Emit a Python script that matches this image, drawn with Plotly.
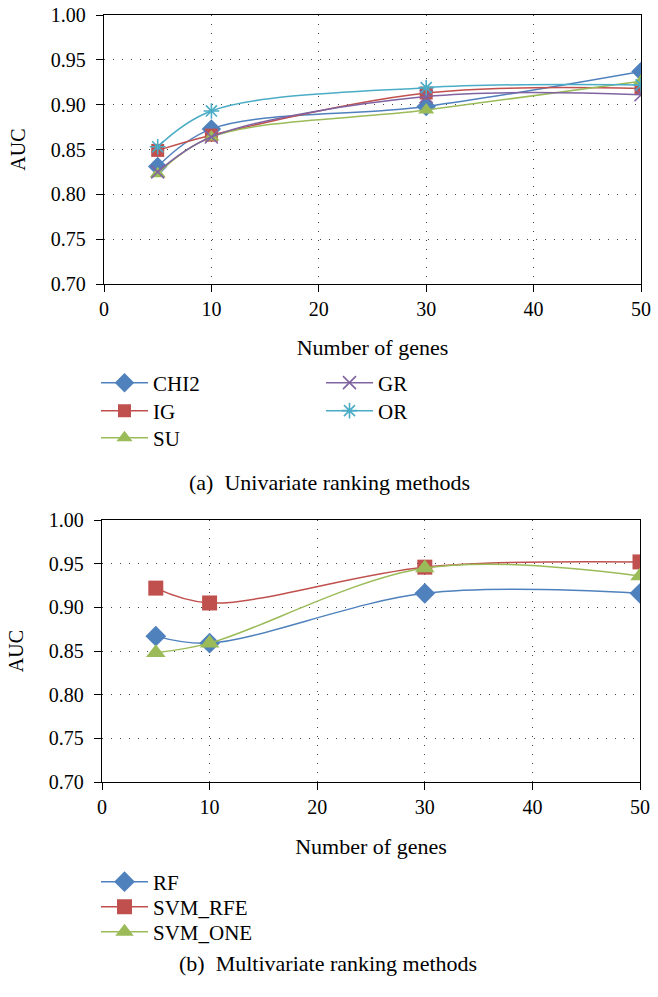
import plotly.graph_objects as go

# ---- data ----
genes = [5, 10, 30, 50]
chi2 = [0.831, 0.873, 0.898, 0.937]
ig = [0.849, 0.866, 0.913, 0.918]
su = [0.823, 0.864, 0.894, 0.926]
gr = [0.825, 0.864, 0.909, 0.911]
or_ = [0.853, 0.893, 0.919, 0.922]

rf = [0.867, 0.859, 0.916, 0.916]
svm_rfe = [0.922, 0.905, 0.946, 0.952]
svm_one = [0.848, 0.859, 0.945, 0.936]

x_ticks = [0, 10, 20, 30, 40, 50]
y_ticks = [0.70, 0.75, 0.80, 0.85, 0.90, 0.95, 1.00]

BLUE = "#4F81BD"
RED = "#C0504D"
GREEN = "#9BBB59"
PURPLE = "#8064A2"
AQUA = "#4BACC6"

FONT = "Liberation Serif"
FS = 20
W, H = 658, 997

fig = go.Figure()


def add(name, y, color, symbol, xa, ya, legend, size=13, open_sym=False):
    marker = dict(symbol=symbol, size=size, color=color)
    if open_sym:
        marker.update(line=dict(color=color, width=1.6))
    fig.add_trace(go.Scatter(
        x=genes, y=y, name=name, mode="lines+markers", showlegend=True,
        line=dict(color=color, width=1.5, shape="spline", smoothing=1.0),
        marker=marker, xaxis=xa, yaxis=ya, legend=legend,
    ))


add("CHI2", chi2, BLUE, "diamond", "x", "y", "legend", size=15)
add("IG", ig, RED, "square", "x", "y", "legend2", size=13)
add("SU", su, GREEN, "triangle-up", "x", "y", "legend3", size=14)
add("GR", gr, PURPLE, "x-thin-open", "x", "y", "legend4", size=13, open_sym=True)
add("OR", or_, AQUA, "asterisk-open", "x", "y", "legend5", size=13, open_sym=True)

add("RF", rf, BLUE, "diamond", "x2", "y2", "legend6", size=16)
add("SVM_RFE", svm_rfe, RED, "square", "x2", "y2", "legend7", size=15)
add("SVM_ONE", svm_one, GREEN, "triangle-up", "x2", "y2", "legend8", size=17)

axis_common = dict(
    showline=True, linecolor="black", linewidth=1.3, mirror=True,
    ticks="outside", ticklen=7, tickcolor="black", tickwidth=1.3,
    showgrid=True, gridcolor="#444444", gridwidth=1.2, griddash="1px,8px",
    zeroline=False, tickfont=dict(family=FONT, size=FS, color="black"),
    automargin=False,
)

xdom1 = [104 / W, 641 / W]
ydom1 = [1 - 284 / H, 1 - 15 / H]
xdom2 = [102 / W, 640 / W]
ydom2 = [1 - 782 / H, 1 - 520 / H]

xtitle_font = dict(family=FONT, size=22, color="black")
ytitle_font = dict(family=FONT, size=20, color="black")
leg_font = dict(family=FONT, size=21, color="black")


def leg(x_px, y_px):
    return dict(x=x_px / W, y=1 - y_px / H, xanchor="left", yanchor="middle",
                bgcolor="rgba(0,0,0,0)", font=leg_font, itemwidth=47,
                borderwidth=0)


fig.update_layout(
    width=W, height=H,
    margin=dict(l=0, r=0, t=0, b=0),
    showlegend=True,
    paper_bgcolor="white", plot_bgcolor="white",
    font=dict(family=FONT, size=FS, color="black"),
    xaxis=dict(axis_common, domain=xdom1, anchor="y", range=[0, 50],
               tickvals=x_ticks,
               title=dict(text="Number of genes", font=xtitle_font, standoff=20)),
    yaxis=dict(axis_common, domain=ydom1, anchor="x", range=[0.70, 1.00],
               tickvals=y_ticks, tickformat=".2f", ticklabelstandoff=6,
               title=dict(text="AUC", font=ytitle_font, standoff=19)),
    xaxis2=dict(axis_common, domain=xdom2, anchor="y2", range=[0, 50],
                tickvals=x_ticks,
                title=dict(text="Number of genes", font=xtitle_font, standoff=21)),
    yaxis2=dict(axis_common, domain=ydom2, anchor="x2", range=[0.70, 1.00],
                tickvals=y_ticks, tickformat=".2f", ticklabelstandoff=6,
                title=dict(text="AUC", font=ytitle_font, standoff=19)),
    legend=leg(96, 383),
    legend2=leg(96, 411),
    legend3=leg(96, 438),
    legend4=leg(321, 383),
    legend5=leg(321, 411),
    legend6=leg(96, 882),
    legend7=leg(96, 907),
    legend8=leg(96, 932),
    annotations=[
        dict(text="(a)\u00a0 Univariate ranking methods", x=329 / W, y=1 - 482 / H,
             xref="paper", yref="paper", xanchor="center", yanchor="middle",
             showarrow=False, font=dict(family=FONT, size=22, color="black")),
        dict(text="(b)\u00a0 Multivariate ranking methods", x=328 / W, y=1 - 963 / H,
             xref="paper", yref="paper", xanchor="center", yanchor="middle",
             showarrow=False, font=dict(family=FONT, size=22, color="black")),
    ],
)

fig.write_html(
    "out.html",
    config={"displayModeBar": False},
    post_script="document.body.style.margin='0';document.body.style.overflow='hidden';",
)
